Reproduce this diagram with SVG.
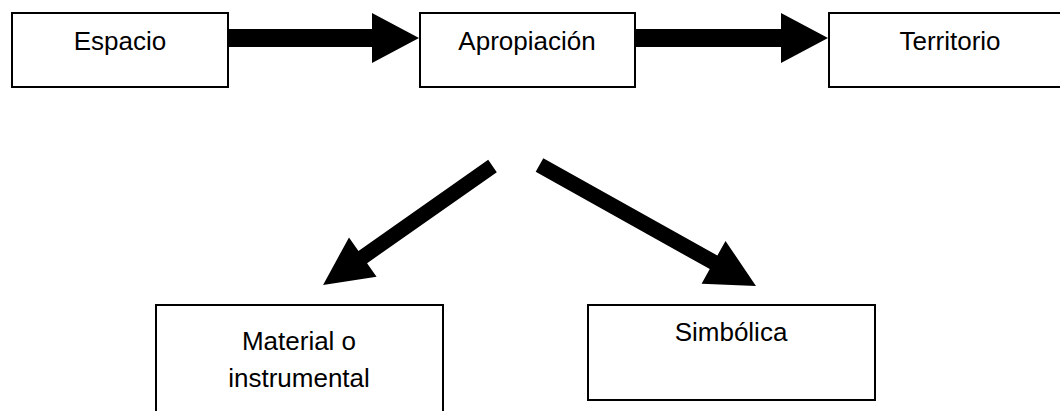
<svg xmlns="http://www.w3.org/2000/svg" width="1060" height="411" viewBox="0 0 1060 411">
<style>
.box{fill:#fff;stroke:#000;stroke-width:2}
.t{font-family:"Liberation Sans",Arial,sans-serif;font-size:26px;fill:#000;text-anchor:middle}
.arr{fill:#000}
</style>
<rect width="1060" height="411" fill="#fff"/>
<g id="connectors">
<polygon class="arr" points="228,29 372,29 372,13 419,38 372,63 372,47 228,47"/>
<polygon class="arr" points="636,29 781,29 781,13 828,38 781,63 781,47 636,47"/>
<polygon class="arr" transform="translate(492.5,166) rotate(144.93)" points="0,-7.5 158.5,-7.5 158.5,-24 207,0 158.5,24 158.5,7.5 0,7.5"/>
<polygon class="arr" transform="translate(539.5,165) rotate(29.2)" points="0,-7.8 199.4,-7.8 199.4,-24.5 248,0 199.4,24.5 199.4,7.8 0,7.8"/>
</g>
<g id="espacio">
<rect class="box" x="12" y="13" width="216" height="74"/>
<text class="t" x="120" y="50">Espacio</text>
</g>
<g id="apropiacion">
<rect class="box" x="420" y="13" width="215" height="74"/>
<text class="t" x="527" y="50">Apropiación</text>
</g>
<g id="territorio">
<rect class="box" x="829" y="13" width="260" height="74"/>
<text class="t" x="950" y="50">Territorio</text>
</g>
<g id="material">
<rect class="box" x="156" y="305" width="287" height="130"/>
<text class="t" x="299" y="350">Material o</text>
<text class="t" x="299" y="387">instrumental</text>
</g>
<g id="simbolica">
<rect class="box" x="588" y="305" width="287" height="95"/>
<text class="t" x="731" y="341">Simbólica</text>
</g>
</svg>
